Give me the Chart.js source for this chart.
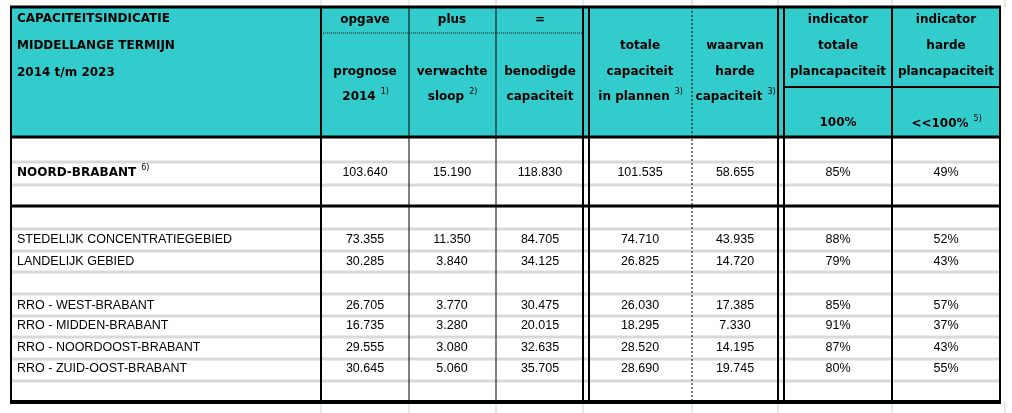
<!DOCTYPE html>
<html>
<head>
<meta charset="utf-8">
<script src="https://cdn.jsdelivr.net/npm/chart.js@4"></script>
<style>
  body { margin: 0; background: #fff; }
  canvas { display: block; }
</style>
</head>
<body>
<canvas id="tabel" width="1012" height="413"></canvas>
<script>
// table values
const regions = ['NOORD-BRABANT', 'STEDELIJK CONCENTRATIEGEBIED', 'LANDELIJK GEBIED',
  'RRO - WEST-BRABANT', 'RRO - MIDDEN-BRABANT', 'RRO - NOORDOOST-BRABANT', 'RRO - ZUID-OOST-BRABANT'];
const prognose = [103640, 73355, 30285, 26705, 16735, 29555, 30645];
const sloop = [15190, 11350, 3840, 3770, 3280, 3080, 5060];
const benodigd = [118830, 84705, 34125, 30475, 20015, 32635, 35705];
const totaalPlan = [101535, 74710, 26825, 26030, 18295, 28520, 28690];
const hardPlan = [58655, 43935, 14720, 17385, 7330, 14195, 19745];
const indTotaal = [85, 88, 79, 85, 91, 87, 80];
const indHard = [49, 52, 43, 57, 37, 43, 55];

// layout (in scale units)
const rowY = [173, 240, 262, 306, 326, 348, 369];
const colCenter = [365, 452, 540, 640, 735, 838, 946];
const grayLines = [162, 185, 229, 251, 272, 294, 316, 337, 359, 381];
const TEAL = '#33CCCC';
const HEAD = 'bold 12px "DejaVu Sans"';
const BODY = '12.5px "Liberation Sans Narrow", "Liberation Sans"';

function fmt(n) {
  return String(n).replace(/\B(?=(\d{3})+(?!\d))/g, '.');
}

const tablePlugin = {
  id: 'tablePlugin',
  beforeDraw(chart) {
    const c = chart.ctx, X = v => chart.scales.x.getPixelForValue(v), Y = v => chart.scales.y.getPixelForValue(v);
    c.save();
    c.fillStyle = '#fff';
    c.fillRect(0, 0, chart.width, chart.height);

    function line(x1, y1, x2, y2, w, col, dash) {
      c.beginPath();
      c.setLineDash(dash || []);
      c.strokeStyle = col || '#000';
      c.lineWidth = w;
      c.moveTo(X(x1), Y(y1));
      c.lineTo(X(x2), Y(y2));
      c.stroke();
      c.setLineDash([]);
    }
    function text(s, x, y, font, align, sup) {
      c.font = font;
      c.fillStyle = '#000';
      c.textAlign = align || 'center';
      c.textBaseline = 'middle';
      const w = c.measureText(s).width;
      let px = X(x);
      if (sup && (align || 'center') === 'center') px -= 6;
      c.fillText(s, px, Y(y));
      if (sup) {
        const start = (align === 'left') ? px : px - w / 2;
        c.font = '8px "DejaVu Sans"';
        c.textAlign = 'left';
        c.fillText(sup, start + w + 5, Y(y) - 5);
      }
    }

    // faint spreadsheet grid outside table
    [321, 409, 496, 583, 692, 778, 892, 1005].forEach(x => {
      line(x, 0, x, 7, 1, '#d0d0d0');
      line(x, 402, x, 413, 1, '#d0d0d0');
    });

    // header fill
    c.fillStyle = TEAL;
    c.fillRect(X(11), Y(7), X(1000) - X(11), Y(137) - Y(7));

    // gray row lines
    grayLines.forEach(y => line(11, y, 1000, y, 3, '#d9d9d9'));

    // horizontal borders
    line(10, 7, 1001, 7, 3);
    line(10, 137, 1001, 137, 3);
    line(10, 206, 1001, 206, 3);
    line(10, 402, 1001, 402, 4);
    line(321, 33, 583, 33, 1.2, '#333', [1, 1]);
    line(785, 87, 1000, 87, 2);

    // vertical borders
    line(11, 7, 11, 402, 2);
    line(321, 7, 321, 402, 2);
    line(409, 7, 409, 402, 1);
    line(496, 7, 496, 402, 1);
    line(583, 7, 583, 402, 2);
    line(589, 7, 589, 402, 2);
    line(692, 7, 692, 402, 1, '#000', [2, 2]);
    line(778, 7, 778, 402, 2);
    line(784, 7, 784, 402, 2);
    line(892, 7, 892, 402, 2);
    line(1000, 7, 1000, 402, 2);

    // header text
    text('CAPACITEITSINDICATIE', 17, 19, HEAD, 'left');
    text('MIDDELLANGE TERMIJN', 17, 46, HEAD, 'left');
    text('2014 t/m 2023', 17, 73, HEAD, 'left');
    text('opgave', 365, 20, HEAD);
    text('plus', 452, 20, HEAD);
    text('=', 540, 20, HEAD);
    text('prognose', 365, 72, HEAD);
    text('2014', 365, 97, HEAD, 'center', '1)');
    text('verwachte', 452, 72, HEAD);
    text('sloop', 452, 97, HEAD, 'center', '2)');
    text('benodigde', 540, 72, HEAD);
    text('capaciteit', 540, 97, HEAD);
    text('totale', 640, 46, HEAD);
    text('capaciteit', 640, 72, HEAD);
    text('in plannen', 640, 97, HEAD, 'center', '3)');
    text('waarvan', 735, 46, HEAD);
    text('harde', 735, 72, HEAD);
    text('capaciteit', 735, 97, HEAD, 'center', '3)');
    text('indicator', 838, 20, HEAD);
    text('totale', 838, 46, HEAD);
    text('plancapaciteit', 838, 72, HEAD);
    text('indicator', 946, 20, HEAD);
    text('harde', 946, 46, HEAD);
    text('plancapaciteit', 946, 72, HEAD);
    text('100%', 838, 123, HEAD);
    text('<<100%', 946, 124, HEAD, 'center', '5)');

    // body rows
    regions.forEach((r, i) => {
      const y = rowY[i];
      if (i === 0) text(r, 17, y, HEAD, 'left', '6)');
      else text(r, 17, y, BODY, 'left');
      const vals = [fmt(prognose[i]), fmt(sloop[i]), fmt(benodigd[i]), fmt(totaalPlan[i]),
        fmt(hardPlan[i]), indTotaal[i] + '%', indHard[i] + '%'];
      vals.forEach((v, j) => text(v, colCenter[j], y, BODY));
    });
    c.restore();
  }
};

new Chart('tabel', {
  type: 'scatter',
  data: { datasets: [{ data: [] }] },
  options: {
    responsive: false,
    animation: false,
    devicePixelRatio: 1,
    layout: { padding: 0 },
    scales: {
      x: { type: 'linear', min: 0, max: 1012, display: false },
      y: { type: 'linear', min: 0, max: 413, reverse: true, display: false }
    },
    plugins: { legend: { display: false }, tooltip: { enabled: false } }
  },
  plugins: [tablePlugin]
});
</script>
</body>
</html>
